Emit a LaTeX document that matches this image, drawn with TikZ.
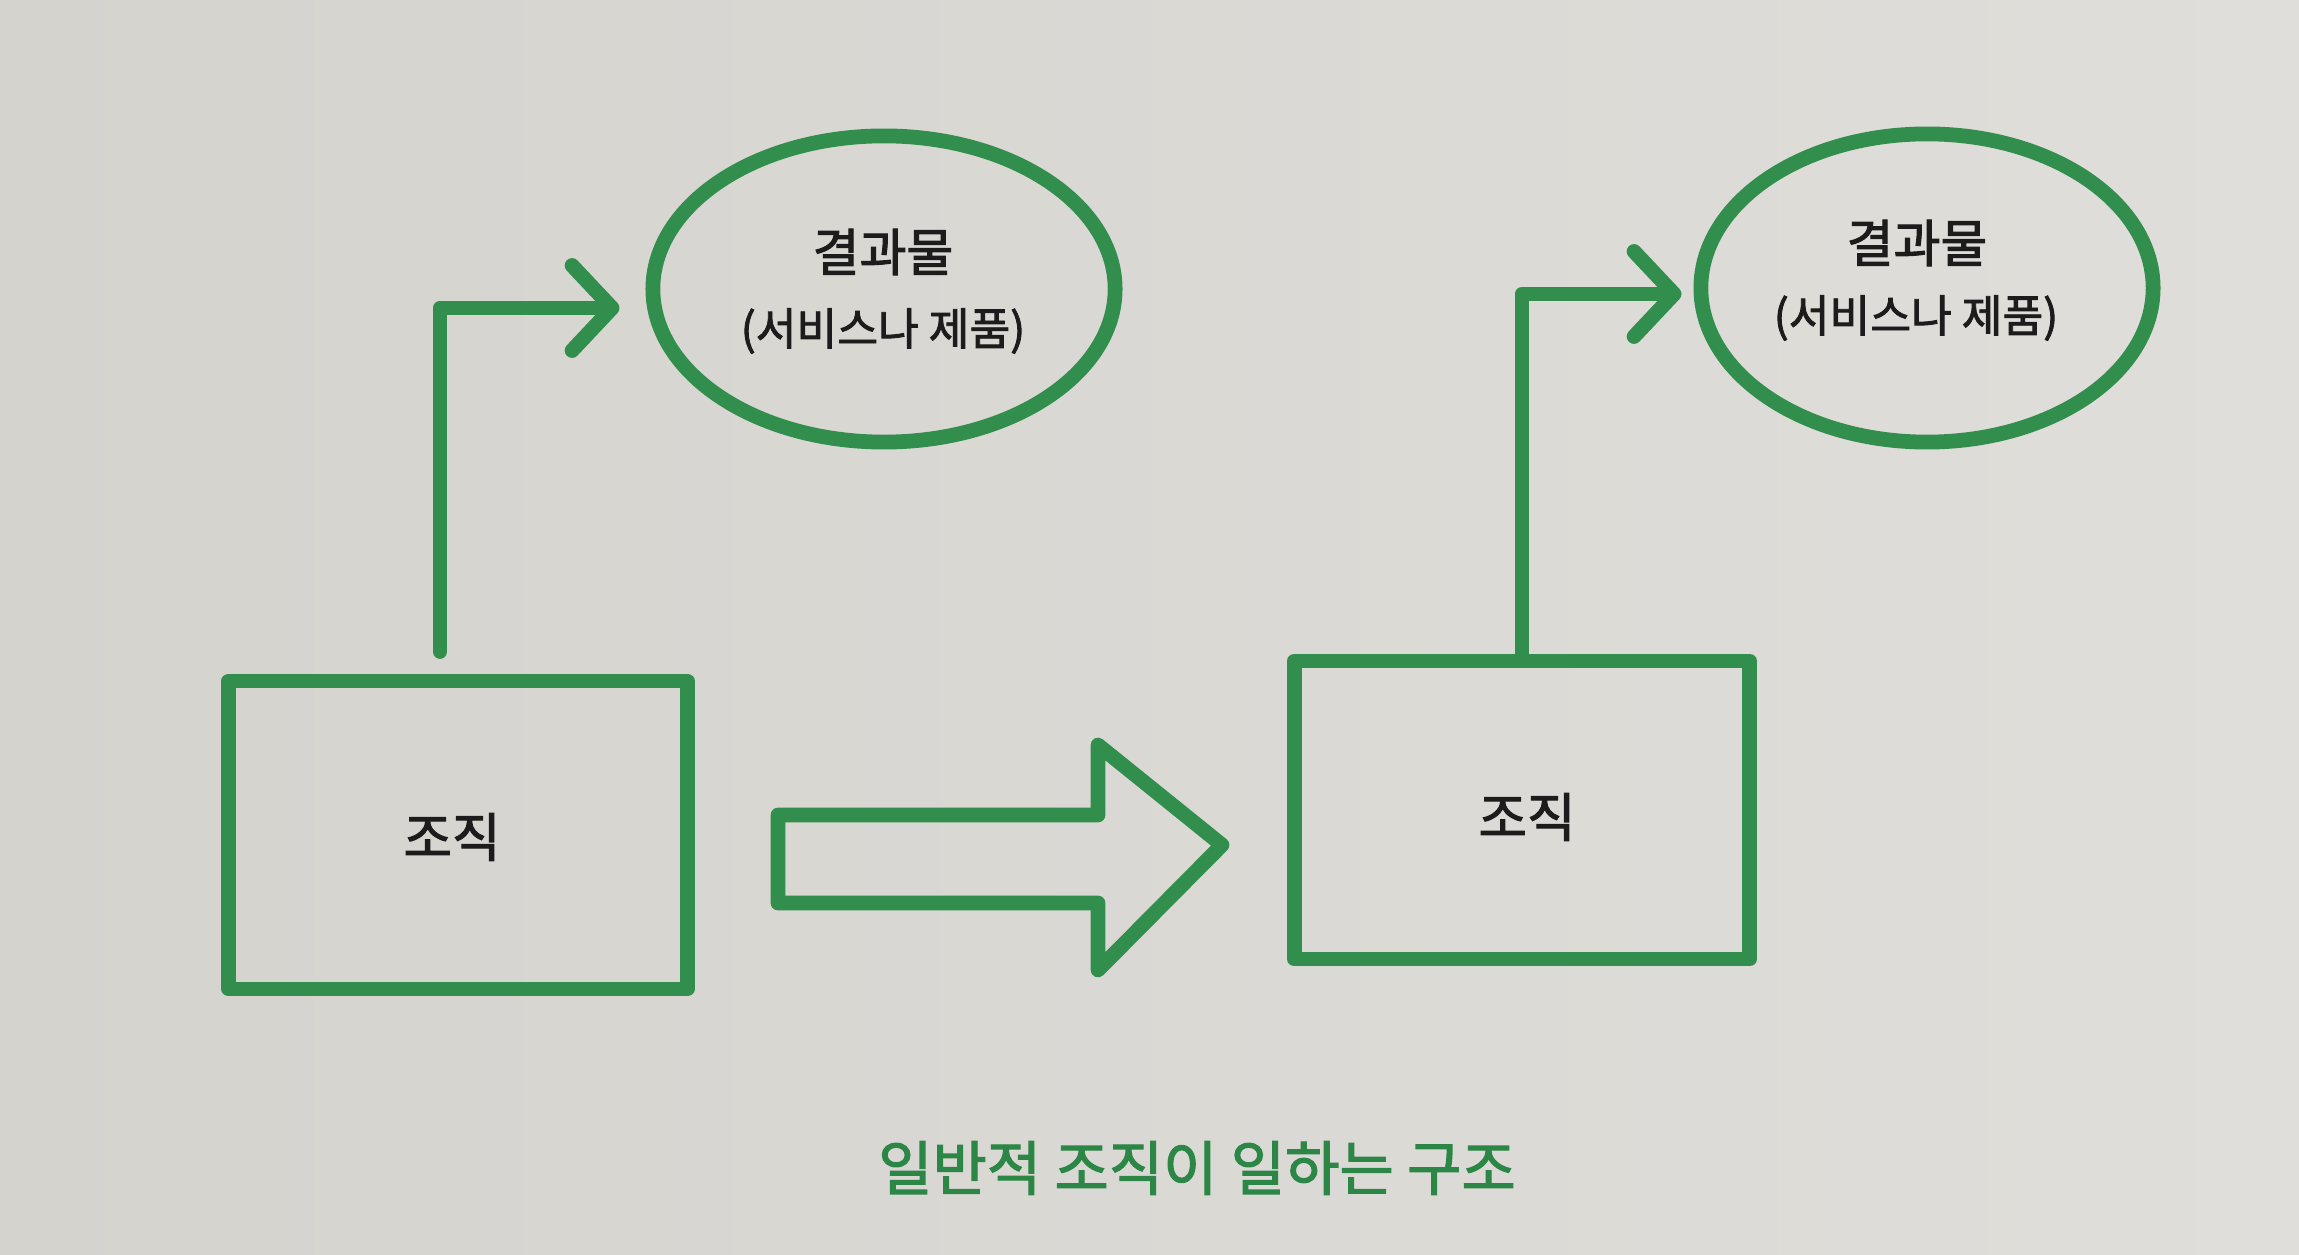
\documentclass[tikz,border=0pt]{standalone}
\usepackage{fontspec}
\newfontfamily\kr{Noto Sans CJK KR}[FakeBold=2]
\usetikzlibrary{arrows.meta,shapes.geometric,calc}
\definecolor{penc}{HTML}{318E4C}
\definecolor{capc}{HTML}{2C8646}
\definecolor{ink}{HTML}{1C1C1C}
\definecolor{paperl}{HTML}{D4D3CE}
\definecolor{paperr}{HTML}{DFDEDA}
\begin{document}
\begin{tikzpicture}[x=0.01cm,y=-0.01cm,
  pen/.style={draw=penc, line width=4.2pt, line cap=round, line join=round},
  box/.style={pen, rectangle, inner sep=0pt},
  blob/.style={pen, ellipse, inner sep=0pt},
  conn/.style={pen, -{Straight Barb[length=0.4cm,width=0.85cm,round]}},
  titletext/.style={font=\kr\fontsize{14.5}{17}\selectfont, text=ink, inner sep=0pt},
  subtext/.style={font=\kr\fontsize{12.6}{15}\selectfont, text=ink, inner sep=0pt},
  orgtext/.style={font=\kr\fontsize{15}{17}\selectfont, text=ink, inner sep=0pt},
  captext/.style={font=\kr\fontsize{16.8}{19}\selectfont, text=capc, inner sep=0pt}]
\useasboundingbox (0,0) rectangle (2299,1255);
\shade[left color=paperl, right color=paperr] (0,0) rectangle (2299,1255);

% boxes
\node[box, minimum width=4.58cm, minimum height=3.08cm] (box1) at (458,835) {};
\node[box, minimum width=4.55cm, minimum height=2.98cm] (box2) at (1522,810) {};
\node[orgtext] (org1) at (452,837) {조직};
\node[orgtext] (org2) at (1527,817) {조직};

% ellipses
\node[blob, minimum width=4.62cm, minimum height=3.06cm] (ell1) at (884,289) {};
\node[blob, minimum width=4.52cm, minimum height=3.08cm] (ell2) at (1927,288) {};
\node[titletext] (t1) at (883,252) {결과물};
\node[subtext] (s1) at (883,331) {(서비스나 제품)};
\node[titletext] (t2) at (1917,243) {결과물};
\node[subtext] (s2) at (1916,318) {(서비스나 제품)};

% elbow connectors
\draw[conn] ([xshift=-0.18cm,yshift=0.22cm]box1.north) |- ([xshift=-0.26cm,yshift=-0.19cm]ell1.west);
\draw[conn] (box2.north) |- ([xshift=-0.12cm,yshift=-0.06cm]ell2.west);

% big block arrow
\draw[pen] (778,815) -- (1098,815) -- (1098,745) -- (1222,845) -- (1098,970) -- (1098,903) -- (778,903) -- cycle;

% caption
\node[captext] (caption) at (1197,1168) {일반적 조직이 일하는 구조};
\end{tikzpicture}
\end{document}
